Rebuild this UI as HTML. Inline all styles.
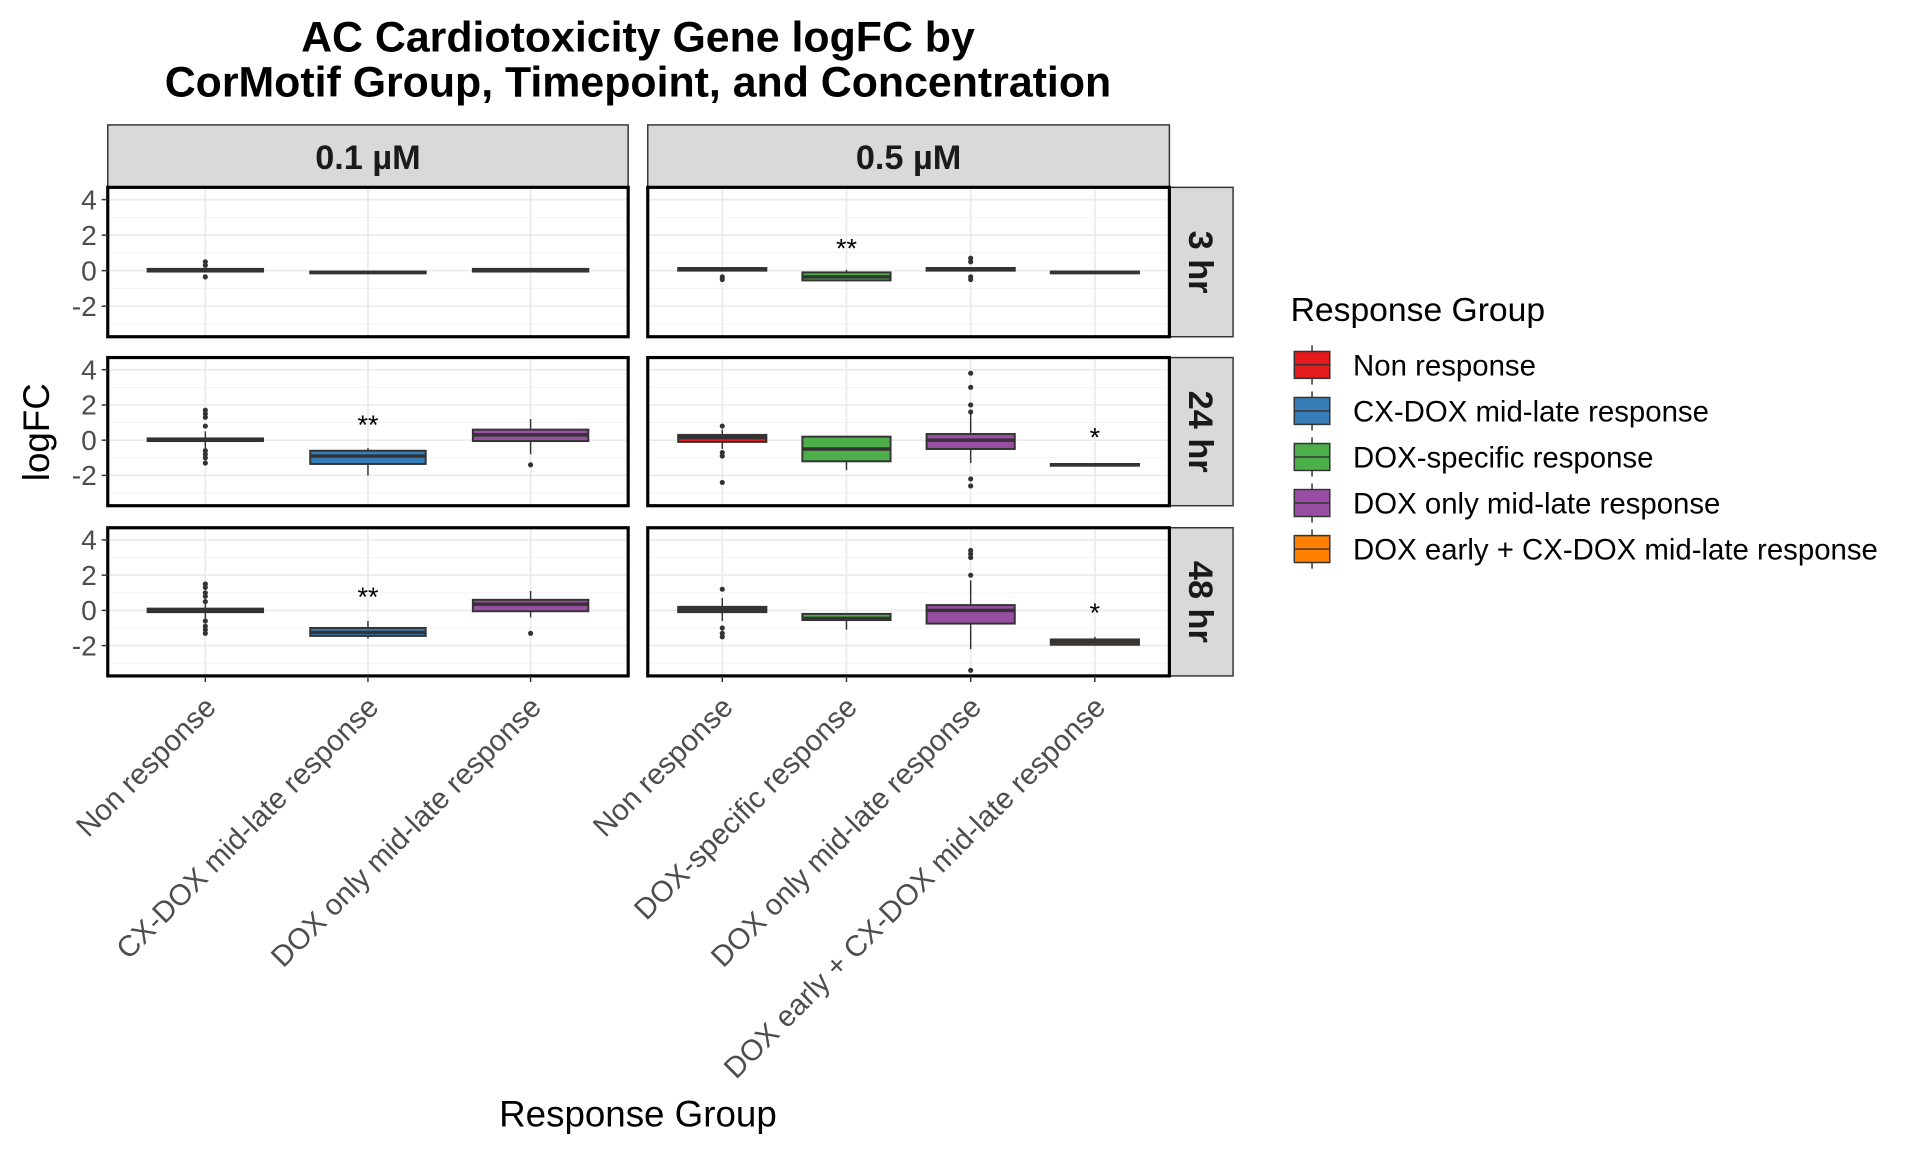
<!DOCTYPE html>
<html><head><meta charset="utf-8"><style>
html,body{margin:0;padding:0;background:#fff;}
svg{display:block;font-family:"Liberation Sans",Arial,sans-serif;}
</style></head><body>
<svg id="chart" width="1920" height="1152" viewBox="0 0 1568 940.8" xmlns="http://www.w3.org/2000/svg">
<rect width="1568" height="940.8" fill="#fff"/>
<text x="521" y="42" text-anchor="middle" font-size="35" font-weight="bold">AC Cardiotoxicity Gene logFC by</text>
<text x="521" y="79" text-anchor="middle" font-size="35" font-weight="bold">CorMotif Group, Timepoint, and Concentration</text>
<text transform="translate(40,353) rotate(-90)" text-anchor="middle" font-size="30">logFC</text>
<text x="521" y="920" text-anchor="middle" font-size="30">Response Group</text>
<g id="plots"></g>
<g id="legend"></g>
</svg>
<script>
const groupNames = ["Non response","CX-DOX mid-late response","DOX-specific response","DOX only mid-late response","DOX early + CX-DOX mid-late response"];
const groupColors = ["#E41A1C","#377EB8","#4DAF4A","#984EA3","#FF7F00"];
const concentrations = ["0.1 µM","0.5 µM"];
const timepoints = ["3 hr","24 hr","48 hr"];
const panelCategories = [[0,1,3],[0,2,3,4]];
const yTicks = [-2,0,2,4];
// stats: [lowWhisker, q1, median, q3, highWhisker]
const stats3hLow = [[-0.1,-0.05,0,0.1,0.15],[-0.2,-0.15,-0.1,-0.05,0],[-0.1,-0.05,0,0.1,0.15]];
const outliers3hLow = [[0.5,0.3,-0.35],[],[]];
const stats3hHigh = [[-0.05,0,0.05,0.15,0.2],[-0.6,-0.55,-0.35,-0.1,0.05],[-0.05,0,0.05,0.15,0.2],[-0.2,-0.15,-0.1,-0.05,0]];
const outliers3hHigh = [[-0.35,-0.5],[],[0.5,0.7,-0.35,-0.5],[]];
const stats24hLow = [[-0.5,-0.05,0,0.1,0.5],[-2.0,-1.35,-0.9,-0.6,-0.45],[-0.8,-0.05,0.3,0.6,1.2]];
const outliers24hLow = [[1.7,1.5,1.3,0.8,-0.6,-0.8,-1.0,-1.3],[],[-1.4]];
const stats24hHigh = [[-0.5,-0.1,0.15,0.3,0.6],[-1.7,-1.2,-0.5,0.2,0.2],[-1.3,-0.5,0.0,0.35,1.6],[-1.5,-1.45,-1.4,-1.35,-1.3]];
const outliers24hHigh = [[0.8,-0.7,-0.9,-2.4],[],[3.8,3.0,2.0,1.6,-2.2,-2.6],[]];
const stats48hLow = [[-0.5,-0.1,0,0.1,0.5],[-1.6,-1.45,-1.25,-1.0,-0.6],[-0.4,-0.05,0.35,0.6,1.1]];
const outliers48hLow = [[1.5,1.3,1.0,0.8,0.5,-0.6,-0.9,-1.1,-1.3],[],[-1.3]];
const stats48hHigh = [[-0.6,-0.1,0.05,0.2,0.7],[-1.1,-0.55,-0.45,-0.2,-0.15],[-2.2,-0.75,0.0,0.3,1.7],[-2.0,-1.95,-1.8,-1.65,-1.5]];
const outliers48hHigh = [[1.2,-1.0,-1.3,-1.5],[],[3.4,3.2,3.0,2.0,-3.4],[]];
const sigLabels = [[["","",""],["","**","",""]],[["","**",""],["","","","*"]],[["","**",""],["","","","*"]]];
const sigY = [[[0,0,0],[0,1.3,0,0]],[[0,0.9,0],[0,0,0,0.2]],[[0,0.8,0],[0,0,0,-0.1]]];

const allStats = [[stats3hLow,stats3hHigh],[stats24hLow,stats24hHigh],[stats48hLow,stats48hHigh]];
const allOut = [[outliers3hLow,outliers3hHigh],[outliers24hLow,outliers24hHigh],[outliers48hLow,outliers48hHigh]];

const NS="http://www.w3.org/2000/svg";
function mk(tag,attrs,parent){const e=document.createElementNS(NS,tag);for(const k in attrs)e.setAttribute(k,attrs[k]);parent.appendChild(e);return e;}
const plots=document.getElementById('plots');
const colX=[[88,513],[529,955]];
const rowY=[[153,275],[292,413],[431,552]];
const yMin=-3.72,yMax=4.69;
function yScale(r,v){const [t,b]=rowY[r];return b-(v-yMin)/(yMax-yMin)*(b-t);}
function xScale(c,i){const [l,r]=colX[c];const n=panelCategories[c].length;const step=(r-l)/(n-1+1.2);return l+step*(0.6+i);}
function stepOf(c){const [l,r]=colX[c];const n=panelCategories[c].length;return (r-l)/(n-1+1.2);}

concentrations.forEach((lab,c)=>{
  const g=mk('g',{},plots);
  
  
  mk('rect',{x:colX[c][0],y:102,width:colX[c][1]-colX[c][0],height:51,fill:'#d9d9d9',stroke:'#333','stroke-width':1.2},g);
  const t=mk('text',{x:(colX[c][0]+colX[c][1])/2,y:138,'text-anchor':'middle','font-size':28,'font-weight':'bold',fill:'#1a1a1a'},g);t.textContent=lab;
});
timepoints.forEach((lab,r)=>{
  const g=mk('g',{},plots);
  
  
  mk('rect',{x:955,y:rowY[r][0],width:52,height:rowY[r][1]-rowY[r][0],fill:'#d9d9d9',stroke:'#333','stroke-width':1.2},g);
  const cy=(rowY[r][0]+rowY[r][1])/2;
  const t=mk('text',{x:0,y:0,transform:`translate(971,${cy}) rotate(90)`,'text-anchor':'middle','font-size':28,'font-weight':'bold',fill:'#1a1a1a'},g);t.textContent=lab;
});

for(let r=0;r<3;r++){
  for(let c=0;c<2;c++){
    const g=mk('g',{},plots);
    
    
    const [l,rr]=colX[c];const [t,b]=rowY[r];
    [-3,-1,1,3].forEach(v=>mk('line',{x1:l,x2:rr,y1:yScale(r,v),y2:yScale(r,v),stroke:'#f2f2f2','stroke-width':0.7},g));
    yTicks.forEach(v=>mk('line',{x1:l,x2:rr,y1:yScale(r,v),y2:yScale(r,v),stroke:'#ebebeb','stroke-width':1.4},g));
    panelCategories[c].forEach((cat,i)=>mk('line',{x1:xScale(c,i),x2:xScale(c,i),y1:t,y2:b,stroke:'#ebebeb','stroke-width':1.4},g));
    const st=allStats[r][c], ou=allOut[r][c];
    const bw=stepOf(c)*0.71;
    panelCategories[c].forEach((cat,i)=>{
      const x=xScale(c,i);const s=st[i];
      const bg=mk('g',{},g);
      
      
      mk('line',{x1:x,x2:x,y1:yScale(r,s[0]),y2:yScale(r,s[4]),stroke:'#333','stroke-width':1.2},bg);
      const y1=yScale(r,s[3]),y2=yScale(r,s[1]);
      mk('rect',{x:x-bw/2,y:y1,width:bw,height:Math.max(y2-y1,0.5),fill:groupColors[cat],stroke:'#333','stroke-width':1.6},bg);
      mk('line',{x1:x-bw/2,x2:x+bw/2,y1:yScale(r,s[2]),y2:yScale(r,s[2]),stroke:'#333','stroke-width':2.8},bg);
      ou[i].forEach(v=>{const d=mk('circle',{cx:x,cy:yScale(r,v),r:2.1,fill:'#333'},bg);
        
        });
      const sl=sigLabels[r][c][i];
      if(sl){const tt=mk('text',{x:x,y:yScale(r,sigY[r][c][i])+8,'text-anchor':'middle','font-size':22},g);tt.textContent=sl;
        
        }
    });
    mk('rect',{x:l,y:t,width:rr-l,height:b-t,fill:'none',stroke:'#000','stroke-width':2.6},g);
    if(c===0){
      yTicks.forEach(v=>{
        mk('line',{x1:l-5,x2:l,y1:yScale(r,v),y2:yScale(r,v),stroke:'#333','stroke-width':1.2},g);
        const tt=mk('text',{x:l-9,y:yScale(r,v)+8,'text-anchor':'end','font-size':23,fill:'#4d4d4d'},g);tt.textContent=v;
        
        
      });
    }
    if(r===2){
      panelCategories[c].forEach((cat,i)=>{
        const x=xScale(c,i);
        mk('line',{x1:x,x2:x,y1:b,y2:b+5,stroke:'#333','stroke-width':1.2},g);
        const tt=mk('text',{x:0,y:0,transform:`translate(${x+10},${b+27}) rotate(-45)`,'text-anchor':'end','font-size':24,fill:'#4d4d4d'},g);
        tt.textContent=groupNames[cat];
        
        
      });
    }
  }
}
const lg=document.getElementById('legend');


const lt=mk('text',{x:1054,y:262,'font-size':27.5},lg);lt.textContent='Response Group';
groupNames.forEach((n,i)=>{
  const y=298+i*37.6;
  const e=mk('g',{},lg);
  
  
  mk('line',{x1:1071.5,x2:1071.5,y1:y-16,y2:y+16,stroke:'#333','stroke-width':1.2},e);
  mk('rect',{x:1057,y:y-11,width:29,height:22,fill:groupColors[i],stroke:'#333','stroke-width':1.2},e);
  mk('line',{x1:1057,x2:1086,y1:y,y2:y,stroke:'#333','stroke-width':1.2},e);
  const t=mk('text',{x:1105,y:y+8.5,'font-size':24},e);t.textContent=n;
});
</script>
</body></html>
